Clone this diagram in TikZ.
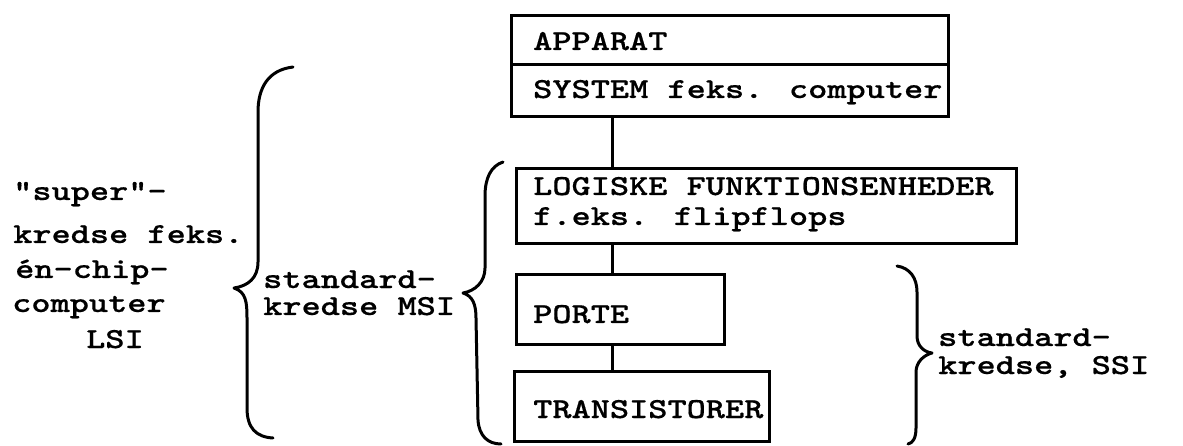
\documentclass[tikz,border=0pt]{standalone}
\usepackage{fontspec}
\newfontfamily\typefont{lmmonolt10-bold.otf}[FakeStretch=1.26, FakeBold=0.5]
\usetikzlibrary{positioning}
\tikzset{
  box/.style={draw, line width=3pt, anchor=north west, inner sep=0pt},
  txt/.style={font=\typefont\fontsize{29}{30}\selectfont, inner sep=0pt, anchor=base west},
  link/.style={line width=3pt},
  brace/.style={line width=3pt, line cap=round, line join=round},
}

\begin{document}
\begin{tikzpicture}[x=1pt, y=-1pt]
    \useasboundingbox (0,0) rectangle (1183,446);
    % the blocks, top to bottom
    \node[box, minimum width=437pt, minimum height=49pt] (apparat) at (510,14) {};
    \node[box, minimum width=437pt, minimum height=52pt] (system) at (510,63) {};
    \node[box, minimum width=500pt, minimum height=75pt] (logiske) at (515,167) {};
    \node[box, minimum width=208pt, minimum height=70pt] (porte) at (515,273) {};
    \node[box, minimum width=255pt, minimum height=70pt] (trans) at (513,370) {};
    \node[txt] (apparattxt) at (533,50) {APPARAT};
    \node[txt] (systemtxt) at (533,98) {SYSTEM feks. computer};
    \node[txt] (logisketxt) at (533,195) {LOGISKE FUNKTIONSENHEDER};
    \node[txt] (flipflops) at (533,225) {f.eks. flipflops};
    \node[txt] (portetxt) at (533,323) {PORTE};
    \node[txt] (transtxt) at (533,418) {TRANSISTORER};
    % connectors
    \coordinate (spine) at (612,0);
    \draw[link] (system.south -| spine) -- (logiske.north -| spine);
    \draw[link] (logiske.south -| spine) -- (porte.north -| spine);
    \draw[link] (porte.south -| spine) -- (trans.north -| spine);
    % LSI
    \draw[brace] (293,67) .. controls (268,70) and (258,88) .. (258,112) -- (258,262)
        .. controls (258,278) and (248,286) .. (234,288)
        .. controls (246,292) and (247,302) .. (247,318) -- (247,408)
        .. controls (247,428) and (256,437) .. (273,438);
    \node[txt] (lsia) at (13,200) {"super"-};
    \node[txt] (lsib) at (13,243) {kredse feks.};
    \node[txt] (lsic) at (15,278) {én-chip-};
    \node[txt] (lsid) at (12,312) {computer};
    \node[txt] (lsie) at (86,348) {LSI};
    % MSI
    \draw[brace] (503,162) .. controls (491,166) and (485,178) .. (485,196) -- (485,268)
        .. controls (485,282) and (475,291) .. (463,293)
        .. controls (473,296) and (476,305) .. (476,318) -- (478,420)
        .. controls (479,436) and (488,444) .. (501,444);
    \node[txt] (msia) at (263,288) {standard-};
    \node[txt] (msib) at (263,315) {kredse MSI};
    % SSI
    \draw[brace] (897,266) .. controls (910,268) and (917,278) .. (917,292) -- (917,336)
        .. controls (917,346) and (924,352) .. (932,353)
        .. controls (924,355) and (916,362) .. (916,372) -- (916,428)
        .. controls (916,438) and (913,443) .. (908,444);
    \node[txt] (ssia) at (938,346) {standard-};
    \node[txt] (ssib) at (938,374) {kredse, SSI};
\end{tikzpicture}
\end{document}
